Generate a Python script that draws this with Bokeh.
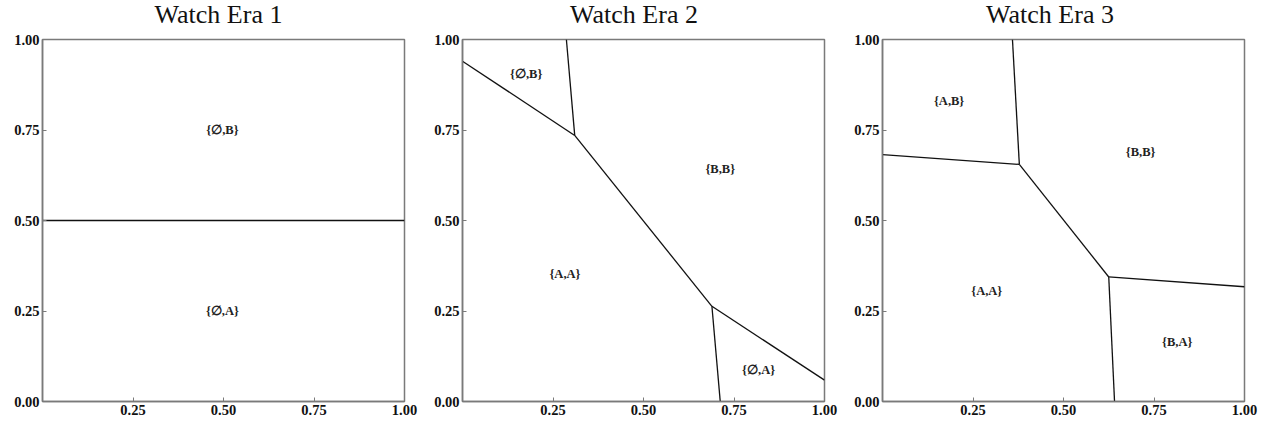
from bokeh.plotting import figure
from bokeh.layouts import row, column
from bokeh.models import Range1d, FixedTicker, ColumnDataSource, Div
from bokeh.core.properties import value
from bokeh.embed import file_html
from bokeh.resources import INLINE

titles = ["Watch Era 1", "Watch Era 2", "Watch Era 3"]

x_ticks = [0.25, 0.50, 0.75, 1.00]
y_ticks = [0.00, 0.25, 0.50, 0.75, 1.00]

# boundary segments (x0, y0) -> (x1, y1)
era1_x0 = [0.0]
era1_y0 = [0.5]
era1_x1 = [1.0]
era1_y1 = [0.5]

era2_x0 = [0.0, 0.287, 0.310, 0.689, 0.689]
era2_y0 = [0.940, 1.000, 0.735, 0.263, 0.263]
era2_x1 = [0.310, 0.310, 0.689, 0.712, 1.000]
era2_y1 = [0.735, 0.735, 0.263, 0.000, 0.059]

era3_x0 = [0.0, 0.359, 0.378, 0.625, 0.625]
era3_y0 = [0.682, 1.000, 0.655, 0.344, 0.344]
era3_x1 = [0.378, 0.378, 0.625, 0.641, 1.000]
era3_y1 = [0.655, 0.655, 0.344, 0.000, 0.317]

# region labels
era1_lab = ["{\u2205,B}", "{\u2205,A}"]
era1_lx = [0.497, 0.497]
era1_ly = [0.750, 0.250]

era2_lab = ["{\u2205,B}", "{B,B}", "{A,A}", "{\u2205,A}"]
era2_lx = [0.176, 0.712, 0.283, 0.818]
era2_ly = [0.906, 0.641, 0.351, 0.088]

era3_lab = ["{A,B}", "{B,B}", "{A,A}", "{B,A}"]
era3_lx = [0.184, 0.713, 0.288, 0.814]
era3_ly = [0.830, 0.689, 0.305, 0.164]

eras = [
    (era1_x0, era1_y0, era1_x1, era1_y1, era1_lab, era1_lx, era1_ly),
    (era2_x0, era2_y0, era2_x1, era2_y1, era2_lab, era2_lx, era2_ly),
    (era3_x0, era3_y0, era3_x1, era3_y1, era3_lab, era3_lx, era3_ly),
]

title_pad = [17, 8, 0]

SERIF = "Liberation Serif"
figs = []
heads = []
for i, (x0, y0, x1, y1, lab, lx, ly) in enumerate(eras):
    heads.append(Div(
        text=f'<div style="width:420px;text-align:center;padding-left:{title_pad[i]}px;'
             f'box-sizing:border-box;font-family:\'{SERIF}\';font-size:26px;'
             f'line-height:30px;color:#111111;">{titles[i]}</div>',
        width=420, height=30, margin=(0, 0, 0, 0)))

    p = figure(width=420, height=395, output_backend="svg", toolbar_location=None,
               x_range=Range1d(0, 1), y_range=Range1d(0, 1),
               min_border_left=42, min_border_right=16,
               min_border_top=9, min_border_bottom=24)
    p.grid.visible = False
    p.outline_line_color = "#7a7a7a"
    p.outline_line_width = 1.5
    p.background_fill_color = "white"
    p.border_fill_color = "white"

    p.xaxis.ticker = FixedTicker(ticks=x_ticks)
    p.yaxis.ticker = FixedTicker(ticks=y_ticks)
    p.xaxis.major_label_overrides = {t: f"{t:.2f}" for t in x_ticks}
    p.yaxis.major_label_overrides = {t: f"{t:.2f}" for t in y_ticks}
    for ax in (p.xaxis, p.yaxis):
        ax.axis_line_color = "#7a7a7a"
        ax.axis_line_width = 1.5
        ax.major_tick_in = 4
        ax.major_tick_out = 0
        ax.major_tick_line_color = "#7a7a7a"
        ax.minor_tick_line_color = None
        ax.major_label_text_font = SERIF
        ax.major_label_text_font_style = "bold"
        ax.major_label_text_font_size = "14.5px"
        ax.major_label_text_color = "#111111"
    p.xaxis.major_label_standoff = 3
    p.yaxis.major_label_standoff = 3

    seg = ColumnDataSource(dict(x0=x0, y0=y0, x1=x1, y1=y1))
    p.segment(x0="x0", y0="y0", x1="x1", y1="y1", source=seg,
              line_color="#111111", line_width=1.3)

    lsrc = ColumnDataSource(dict(x=lx, y=ly, t=lab))
    p.text(x="x", y="y", text="t", source=lsrc, text_align="center",
           text_baseline="middle", text_font=value(SERIF),
           text_font_style="bold", text_font_size="12.5px", text_color="#222222")
    figs.append(p)

layout = column(row(*heads, spacing=0), row(*figs, spacing=0), spacing=0)
open("out.html", "w").write(file_html(layout, INLINE))
